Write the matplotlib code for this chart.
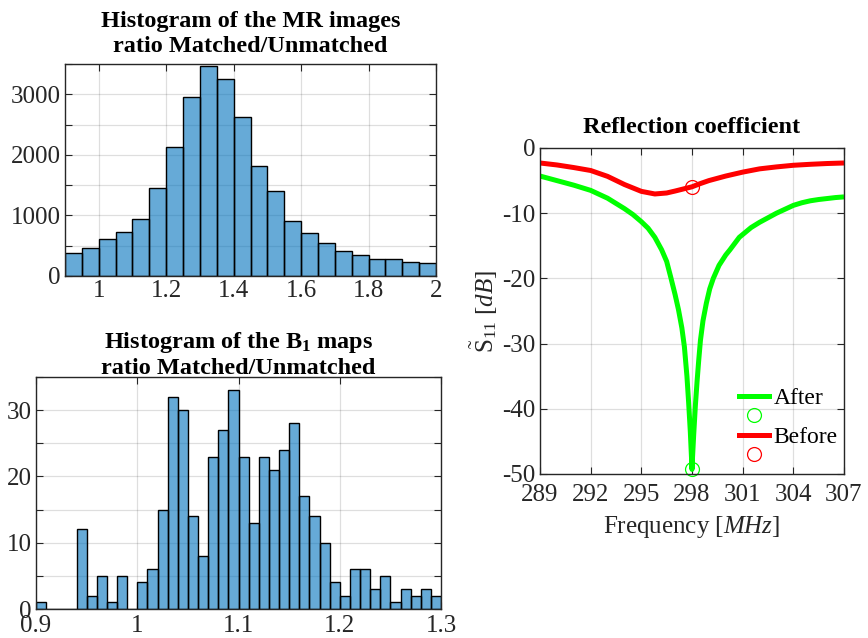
import numpy as np
import matplotlib
matplotlib.use("Agg")
import matplotlib.pyplot as plt
from matplotlib.lines import Line2D

# ---- data -------------------------------------------------------------
mr_edges_start = 0.90
mr_bin_width = 0.05
mr_counts = [374, 457, 605, 726, 941, 1447, 2124, 2955, 3462, 3258, 2620,
             1811, 1398, 903, 704, 550, 413, 341, 286, 275, 226, 209]

b1_edges_start = 0.90
b1_bin_width = 0.01
b1_counts = [1, 0, 0, 0, 12, 2, 5, 1, 5, 0,
             4, 6, 15, 32, 30, 14, 8, 23, 27, 33,
             23, 13, 23, 21, 24, 28, 17, 14, 10, 4,
             2, 6, 6, 3, 5, 1, 3, 2, 3, 2]

freq_after = [289, 290, 291, 292, 293, 293.5, 294, 294.5, 295, 295.4,
              295.8, 296.2, 296.5, 296.74, 297.0, 297.2, 297.4, 297.55,
              297.7, 297.8, 297.9, 297.97, 298.0, 298.03, 298.1, 298.2,
              298.3, 298.4, 298.5, 298.65, 298.85, 299.05, 299.26, 299.6,
              300.0, 300.25, 300.8, 301.5, 302.0, 302.5, 303.0, 303.5,
              304.0, 304.5, 305.0, 305.5, 306.0, 306.5, 307.0]
s11_after = [-4.3, -5.0, -5.7, -6.5, -7.7, -8.5, -9.3, -10.2, -11.3, -12.3,
             -13.7, -15.6, -17.4, -19.8, -22.5, -24.8, -27.6, -30.5,
             -35.0, -39.0, -43.5, -47.5, -49.3, -47.5, -44.0, -39.5,
             -35.8, -32.5, -29.5, -26.5, -23.8, -21.6, -20.0, -18.0,
             -16.4, -15.6, -13.7, -12.2, -11.4, -10.7, -10.0, -9.4,
             -8.8, -8.4, -8.1, -7.9, -7.75, -7.6, -7.5]

freq_before = [289, 290, 291, 292, 293, 294, 295, 295.8, 296.5, 297, 298,
               298.5, 299, 300, 301, 302, 303, 304, 305, 306, 307]
s11_before = [-2.3, -2.6, -3.0, -3.45, -4.35, -5.6, -6.65, -7.05, -6.9, -6.6,
              -5.95, -5.45, -5.0, -4.3, -3.7, -3.2, -2.9, -2.65, -2.5, -2.38,
              -2.3]

marker_freq = 298.0
marker_after = -49.3
marker_before = -6.0

# ---- styling ----------------------------------------------------------
plt.rcParams['font.family'] = ['Liberation Serif', 'DejaVu Serif']
plt.rcParams['mathtext.fontset'] = 'custom'
plt.rcParams['mathtext.rm'] = 'Liberation Serif'
plt.rcParams['mathtext.it'] = 'Liberation Serif:italic'
plt.rcParams['mathtext.bf'] = 'Liberation Serif:bold'
plt.rcParams['axes.unicode_minus'] = False

DARK = '#262626'
BAR = '#0072BD'
GREEN = '#00FF00'
RED = '#FF0000'
TICK_FS = 18
TITLE_FS = 17.5


def style_axes(ax):
    for s in ax.spines.values():
        s.set_color(DARK)
        s.set_linewidth(1.0)
    ax.tick_params(direction='in', top=True, right=True, length=5,
                   width=0.8, colors=DARK, labelsize=TICK_FS, pad=3)
    ax.grid(True, color='#000000', alpha=0.13, linewidth=0.9)
    ax.set_axisbelow(True)


fig = plt.figure(figsize=(8.68, 6.38), dpi=100)

# ---- MR images histogram ----------------------------------------------
ax1 = fig.add_axes([65 / 868, 1 - 276 / 638, 371 / 868, 212 / 638])
mr_left = [mr_edges_start + i * mr_bin_width for i in range(len(mr_counts))]
ax1.bar(mr_left, mr_counts, width=mr_bin_width, align='edge',
        color=BAR, alpha=0.6, edgecolor='none')
ax1.bar(mr_left, mr_counts, width=mr_bin_width, align='edge',
        fill=False, edgecolor='black', linewidth=1.0)
ax1.set_xlim(0.9, 2.0)
ax1.set_ylim(0, 3500)
ax1.set_xticks([1, 1.2, 1.4, 1.6, 1.8, 2])
ax1.set_xticklabels(['1', '1.2', '1.4', '1.6', '1.8', '2'])
ax1.set_yticks(np.arange(0, 3501, 500))
ax1.set_yticklabels(['0', '', '1000', '', '2000', '', '3000', ''])
style_axes(ax1)
ax1.set_title('Histogram of the MR images\nratio Matched/Unmatched',
              fontsize=TITLE_FS, fontweight='bold', color='black',
              linespacing=1.2, pad=9)

# ---- B1 maps histogram ------------------------------------------------
ax2 = fig.add_axes([36 / 868, 1 - 609 / 638, 405 / 868, 232 / 638])
b1_left = [b1_edges_start + i * b1_bin_width for i in range(len(b1_counts))]
ax2.bar(b1_left, b1_counts, width=b1_bin_width, align='edge',
        color=BAR, alpha=0.6, edgecolor='none')
ax2.bar(b1_left, b1_counts, width=b1_bin_width, align='edge',
        fill=False, edgecolor='black', linewidth=1.0)
ax2.set_xlim(0.9, 1.3)
ax2.set_ylim(0, 35)
ax2.set_xticks([0.9, 1.0, 1.1, 1.2, 1.3])
ax2.set_xticklabels(['0.9', '1', '1.1', '1.2', '1.3'])
ax2.set_yticks(np.arange(0, 36, 5))
ax2.set_yticklabels(['0', '', '10', '', '20', '', '30', ''])
style_axes(ax2)
ax2.tick_params(axis='x', pad=4.5)
ax2.set_title('Histogram of the B$_{\\mathbf{1}}$ maps\nratio Matched/Unmatched',
              fontsize=TITLE_FS, fontweight='bold', color='black',
              linespacing=1.2, pad=2)

# ---- reflection coefficient -------------------------------------------
ax3 = fig.add_axes([540 / 868, 1 - 474 / 638, 304 / 868, 326 / 638])
ax3.plot(freq_after, s11_after, color=GREEN, linewidth=3.6,
         solid_capstyle='butt', solid_joinstyle='round')
ax3.plot(freq_before, s11_before, color=RED, linewidth=3.6,
         solid_capstyle='butt', solid_joinstyle='round')
ax3.plot([marker_freq], [marker_after], 'o', mfc='none', mec=GREEN,
         ms=10, mew=0.9, clip_on=False)
ax3.plot([marker_freq], [marker_before], 'o', mfc='none', mec=RED,
         ms=10, mew=0.9)
ax3.set_xlim(289, 307)
ax3.set_ylim(-50, 0)
ax3.set_xticks(np.arange(289, 308, 3))
ax3.set_yticks(np.arange(-50, 1, 10))
style_axes(ax3)
ax3.tick_params(axis='x', pad=7)
ax3.set_title('Reflection coefficient', fontsize=TITLE_FS, fontweight='bold',
              color='black', pad=11)
ax3.set_xlabel('Frequency [$MHz$]', fontsize=TICK_FS, color=DARK,
               labelpad=6)
ax3.set_ylabel(r'$\tilde{\mathrm{S}}_{11}$ [$dB$]', fontsize=TICK_FS,
               color=DARK, labelpad=2)

handles = [
    Line2D([], [], color=GREEN, linewidth=3.6),
    Line2D([], [], linestyle='none', marker='o', mfc='none', mec=GREEN,
           ms=10, mew=0.9),
    Line2D([], [], color=RED, linewidth=3.6),
    Line2D([], [], linestyle='none', marker='o', mfc='none', mec=RED,
           ms=10, mew=0.9),
]
ax3.legend(handles, ['After', ' ', 'Before', ' '], loc='upper left',
           bbox_to_anchor=(0.655, 0.264), frameon=False, fontsize=17,
           handlelength=1.25, handletextpad=0.2, borderaxespad=0,
           borderpad=0, labelspacing=-0.1)

fig.savefig('out.png', dpi=100)
